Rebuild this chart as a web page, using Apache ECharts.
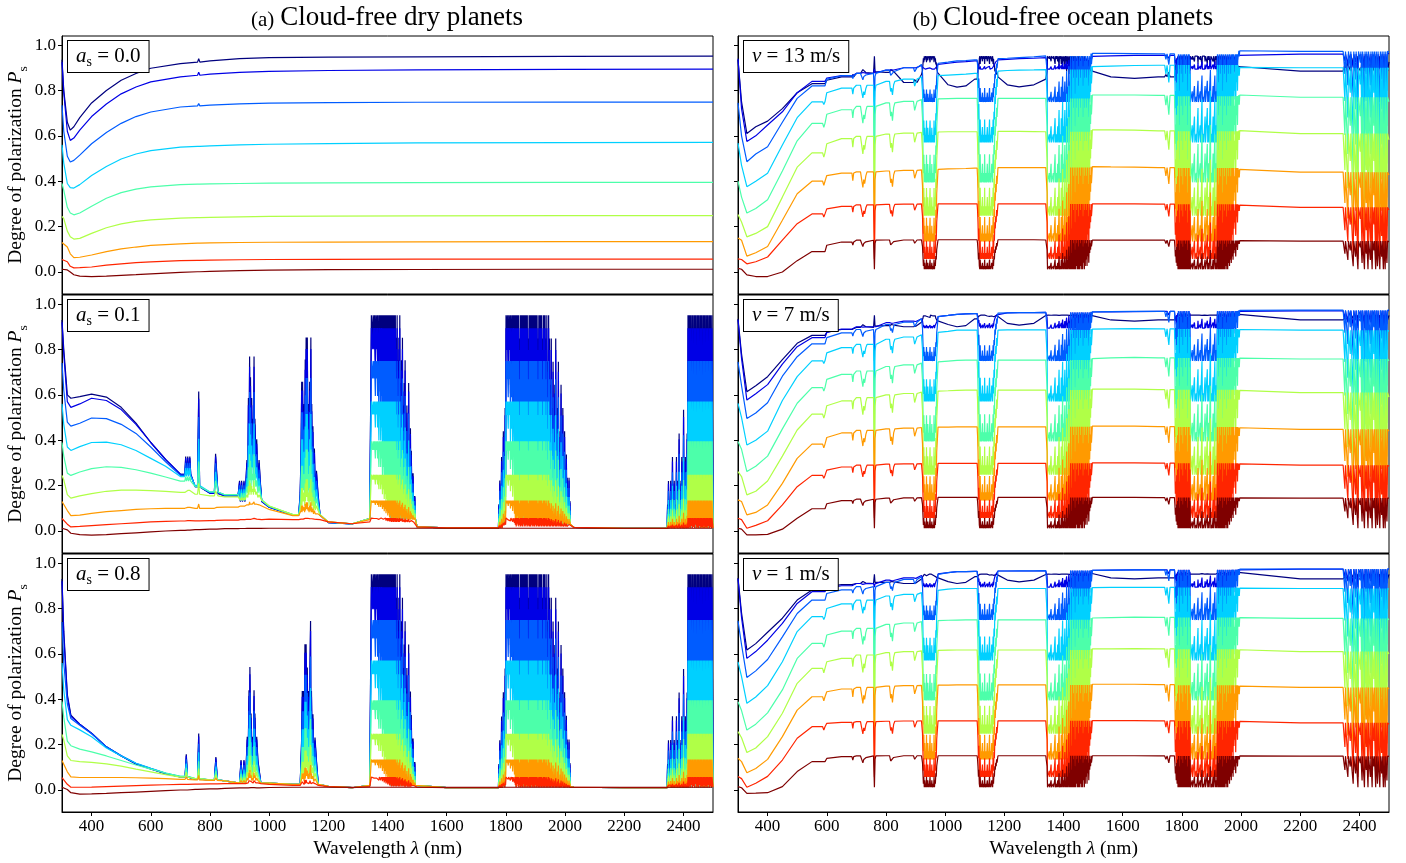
<!DOCTYPE html>
<html><head><meta charset="utf-8">
<script src="https://cdn.jsdelivr.net/npm/echarts@6/dist/echarts.min.js"></script>
<style>html,body{margin:0;padding:0;background:#fff}#c{width:1406px;height:863px}</style>
</head><body><div id="c"></div><script>
// ---------- axes ----------
const XTICKS = [400, 600, 800, 1000, 1200, 1400, 1600, 1800, 2000, 2200, 2400];
const YTICKS = [0, 0.2, 0.4, 0.6, 0.8, 1.0];
const COLORS = ['#00007f', '#0000e6', '#005cff', '#00d0ff', '#4cffaa', '#b0ff47', '#ff9a00', '#ff2500', '#7f0000'];
// fully absorbed (single-scattering) level of each curve, read from the a_s = 0.0 panel
const LEVEL = [0.951, 0.894, 0.749, 0.571, 0.395, 0.248, 0.134, 0.057, 0.012];
const DRY_LABELS = ['0.0', '0.1', '0.8'];
const SEA_LABELS = ['13', '7', '1'];

// ---------- dry, a_s = 0.0 ----------
const wlDry0 = [300, 306, 318, 328, 340, 360, 400, 450, 500, 550, 600, 700, 758, 762, 766, 800, 900, 1000, 1200, 1500, 2000, 2500];
const dry0_navy = [.935, .80, .66, .625, .64, .68, .745, .80, .845, .875, .898, .918, .925, .94, .925, .93, .94, .945, .947, .948, .95, .951];
const dry0_blue = [.925, .79, .62, .58, .59, .625, .685, .74, .785, .815, .838, .86, .867, .88, .867, .872, .88, .884, .888, .891, .893, .894];
const dry0_azure = [.735, .62, .51, .485, .492, .515, .565, .615, .655, .685, .705, .727, .732, .742, .732, .735, .741, .744, .746, .748, .749, .749];
const dry0_cyan = [.56, .48, .39, .372, .37, .385, .425, .465, .498, .52, .535, .55, .554, .56, .554, .556, .56, .563, .566, .569, .57, .571];
const dry0_aqua = [.39, .36, .285, .26, .252, .26, .29, .325, .35, .365, .375, .385, .387, .392, .387, .388, .39, .392, .393, .394, .395, .395];
const dry0_lime = [.245, .235, .18, .155, .145, .148, .17, .195, .212, .223, .23, .237, .24, .244, .24, .241, .243, .245, .246, .247, .248, .248];
const dry0_orange = [.13, .128, .11, .08, .063, .065, .075, .09, .102, .11, .117, .124, .127, .131, .127, .128, .13, .131, .132, .133, .134, .134];
const dry0_red = [.055, .054, .045, .025, .018, .019, .022, .03, .036, .041, .045, .05, .051, .054, .051, .052, .054, .055, .056, .057, .057, .057];
const dry0_maroon = [.012, .012, .009, 0, -.012, -.018, -.02, -.018, -.015, -.012, -.008, -.002, .001, .004, .001, .003, .006, .008, .01, .011, .012, .012];

// ---------- dry, a_s = 0.1 and 0.8 (continuum) ----------
const wlDry = [300, 306, 318, 330, 360, 400, 450, 500, 550, 600, 650, 700, 750, 800, 850, 900, 1000, 1080, 1200, 1280, 1340, 1500, 1600, 1700, 1790, 2030, 2200, 2350, 2500];
const dry1_navy = [.93, .80, .60, .585, .592, .603, .59, .545, .475, .39, .315, .25, .195, .166, .155, .13, .105, .07, .037, .031, .055, .018, .014, .014, .03, .016, .012, .013, .012];
const dry1_blue = [.92, .78, .57, .545, .56, .585, .575, .535, .47, .39, .315, .25, .195, .166, .155, .13, .105, .07, .037, .031, .055, .018, .014, .014, .03, .016, .012, .013, .012];
const dry1_azure = [.74, .62, .48, .462, .475, .498, .495, .47, .43, .37, .305, .245, .195, .17, .158, .133, .106, .071, .038, .031, .055, .018, .014, .014, .03, .016, .012, .013, .012];
const dry1_cyan = [.56, .47, .37, .355, .372, .39, .392, .38, .355, .32, .285, .24, .2, .172, .16, .135, .108, .072, .038, .031, .055, .018, .014, .014, .03, .016, .012, .013, .012];
const dry1_aqua = [.39, .33, .255, .245, .26, .275, .283, .28, .27, .255, .238, .22, .195, .172, .16, .138, .11, .072, .04, .032, .055, .018, .014, .014, .03, .016, .012, .013, .012];
const dry1_lime = [.245, .225, .16, .145, .155, .165, .175, .18, .18, .178, .175, .17, .162, .155, .15, .135, .11, .072, .04, .032, .055, .018, .014, .014, .03, .016, .012, .013, .012];
const dry1_orange = [.13, .128, .09, .068, .07, .078, .085, .09, .095, .098, .1, .1, .1, .1, .105, .11, .095, .068, .04, .032, .05, .018, .014, .014, .03, .016, .012, .013, .012];
const dry1_red = [.055, .054, .03, .018, .02, .024, .028, .032, .036, .04, .042, .044, .045, .046, .048, .05, .052, .05, .04, .032, .04, .018, .014, .014, .02, .016, .012, .013, .012];
const dry1_maroon = [.012, .012, .005, -.01, -.016, -.018, -.016, -.012, -.008, -.004, 0, .003, .006, .008, .01, .011, .012, .012, .012, .012, .012, .012, .012, .012, .012, .012, .012, .012, .012];

const dry8_navy = [.93, .70, .42, .33, .29, .25, .19, .15, .115, .093, .072, .058, .048, .045, .04, .03, .03, .025, .016, .01, .02, .012, .01, .01, .015, .012, .01, .012, .012];
const dry8_blue = [.92, .68, .41, .325, .29, .25, .19, .15, .115, .093, .072, .058, .048, .045, .04, .03, .03, .025, .016, .01, .02, .012, .01, .01, .015, .012, .01, .012, .012];
const dry8_azure = [.74, .56, .38, .315, .285, .248, .19, .152, .118, .095, .073, .058, .048, .045, .04, .03, .03, .025, .016, .01, .02, .012, .01, .01, .015, .012, .01, .012, .012];
const dry8_cyan = [.56, .44, .31, .285, .265, .235, .185, .15, .118, .096, .075, .06, .05, .045, .04, .03, .03, .025, .016, .01, .02, .012, .01, .01, .015, .012, .01, .012, .012];
const dry8_aqua = [.39, .32, .215, .195, .18, .168, .15, .13, .11, .092, .075, .06, .05, .045, .04, .03, .03, .025, .016, .01, .02, .012, .01, .01, .015, .012, .01, .012, .012];
const dry8_lime = [.245, .22, .15, .13, .125, .122, .115, .105, .092, .08, .068, .057, .05, .045, .04, .03, .03, .025, .016, .01, .02, .012, .01, .01, .015, .012, .01, .012, .012];
const dry8_orange = [.13, .128, .08, .058, .055, .055, .055, .055, .054, .052, .05, .047, .045, .042, .04, .03, .03, .025, .016, .01, .02, .012, .01, .01, .015, .012, .01, .012, .012];
const dry8_red = [.055, .054, .025, .012, .012, .013, .015, .017, .019, .021, .023, .025, .026, .027, .028, .028, .025, .02, .015, .01, .015, .012, .01, .01, .012, .012, .01, .012, .012];
const dry8_maroon = [.012, .012, .002, -.012, -.018, -.017, -.015, -.012, -.009, -.006, -.003, 0, .003, .005, .007, .009, .011, .012, .012, .012, .012, .012, .012, .012, .012, .012, .012, .012, .012];

// ---------- ocean (continuum) ----------
const wlSea = [300, 312, 330, 360, 400, 450, 500, 550, 600, 650, 700, 800, 860, 920, 975, 1010, 1040, 1070, 1100, 1170, 1210, 1250, 1300, 1340, 1490, 1560, 1640, 1720, 1785, 1990, 2200, 2500];
const sea13_navy = [.934, .75, .61, .64, .665, .72, .79, .83, .845, .86, .875, .88, .835, .87, .875, .825, .815, .82, .85, .86, .825, .816, .825, .85, .885, .86, .853, .86, .88, .90, .885, .926];
const sea13_blue = [.94, .72, .575, .60, .648, .706, .79, .84, .855, .865, .875, .89, .90, .91, .915, .92, .925, .927, .93, .935, .937, .94, .942, .945, .95, .952, .955, .955, .955, .96, .96, .965];
const sea13_azure = [.745, .60, .486, .52, .552, .66, .765, .82, .85, .865, .875, .89, .90, .915, .92, .925, .93, .932, .935, .94, .942, .945, .948, .952, .963, .963, .962, .961, .96, .975, .972, .97];
const sea13_cyan = [.568, .47, .376, .40, .435, .56, .68, .75, .79, .81, .823, .84, .85, .86, .865, .868, .87, .872, .875, .885, .888, .89, .891, .892, .905, .907, .91, .911, .912, .902, .90, .893];
const sea13_aqua = [.40, .33, .26, .28, .318, .445, .578, .655, .695, .715, .73, .745, .752, .76, .763, .764, .765, .765, .765, .765, .765, .765, .765, .765, .78, .78, .78, .778, .775, .78, .77, .75];
const sea13_lime = [.253, .22, .155, .17, .20, .33, .462, .525, .565, .588, .598, .608, .612, .615, .617, .618, .618, .618, .618, .62, .62, .62, .619, .618, .626, .626, .625, .622, .62, .623, .61, .582];
const sea13_orange = [.15, .14, .07, .085, .112, .228, .345, .40, .425, .436, .441, .445, .448, .45, .452, .454, .455, .456, .458, .46, .46, .46, .46, .46, .464, .463, .462, .46, .458, .452, .44, .427];
const sea13_red = [.058, .055, .036, .045, .066, .14, .213, .256, .278, .289, .296, .298, .299, .30, .30, .30, .30, .30, .30, .30, .30, .30, .30, .30, .30, .30, .30, .299, .298, .295, .285, .273];
const sea13_maroon = [.016, .012, -.013, -.02, -.02, 0, .05, .09, .118, .132, .14, .141, .141, .142, .142, .142, .142, .142, .142, .142, .142, .142, .142, .141, .141, .14, .14, .14, .139, .138, .136, .134];

const sea7_navy = [.935, .78, .614, .64, .68, .755, .827, .862, .876, .888, .897, .905, .90, .92, .935, .91, .90, .905, .935, .95, .915, .907, .915, .95, .95, .93, .925, .93, .95, .955, .93, .95];
const sea7_blue = [.93, .76, .577, .605, .645, .735, .812, .852, .875, .89, .90, .918, .925, .935, .945, .95, .955, .957, .958, .96, .961, .962, .962, .963, .965, .966, .967, .968, .968, .97, .97, .972];
const sea7_azure = [.745, .64, .496, .52, .565, .682, .768, .825, .852, .873, .888, .91, .92, .935, .945, .95, .955, .957, .958, .96, .961, .962, .962, .963, .966, .967, .968, .968, .968, .972, .973, .975];
const sea7_cyan = [.562, .50, .379, .40, .44, .575, .68, .75, .785, .808, .822, .845, .855, .865, .875, .88, .885, .885, .885, .885, .886, .886, .886, .886, .89, .891, .892, .891, .89, .888, .885, .88];
const sea7_aqua = [.394, .36, .262, .285, .33, .45, .563, .632, .668, .69, .705, .725, .732, .74, .745, .749, .752, .753, .753, .753, .753, .753, .753, .753, .76, .763, .765, .763, .762, .762, .758, .75];
const sea7_lime = [.262, .24, .159, .175, .22, .33, .445, .515, .552, .573, .588, .60, .606, .612, .616, .618, .62, .621, .621, .621, .621, .621, .621, .621, .625, .625, .625, .623, .622, .62, .61, .59];
const sea7_orange = [.137, .13, .071, .082, .115, .21, .32, .383, .412, .432, .443, .45, .453, .456, .458, .458, .459, .459, .459, .459, .459, .459, .459, .459, .462, .462, .462, .46, .458, .455, .448, .44];
const sea7_red = [.056, .05, .012, .025, .045, .115, .195, .245, .268, .282, .29, .295, .296, .297, .298, .298, .298, .298, .298, .298, .298, .298, .298, .298, .30, .30, .30, .299, .298, .296, .29, .285];
const sea7_maroon = [.012, .008, -.017, -.017, -.015, .008, .056, .098, .12, .134, .14, .145, .146, .147, .148, .148, .148, .148, .148, .148, .148, .148, .148, .148, .148, .148, .148, .147, .147, .146, .145, .145];

const sea1_navy = [.935, .78, .617, .645, .695, .757, .837, .881, .896, .905, .91, .915, .91, .93, .94, .918, .91, .915, .94, .95, .925, .917, .925, .95, .955, .935, .93, .935, .955, .96, .93, .95];
const sea1_blue = [.93, .76, .58, .61, .66, .734, .822, .874, .888, .90, .91, .925, .935, .945, .952, .958, .962, .962, .963, .965, .965, .965, .965, .966, .968, .969, .97, .97, .97, .972, .973, .975];
const sea1_azure = [.745, .64, .496, .525, .575, .675, .778, .837, .866, .882, .896, .915, .928, .94, .95, .958, .962, .962, .963, .965, .965, .966, .966, .967, .968, .969, .97, .97, .97, .973, .974, .976];
const sea1_cyan = [.565, .50, .382, .41, .46, .565, .698, .764, .80, .82, .837, .855, .862, .87, .88, .885, .888, .888, .888, .888, .888, .888, .888, .888, .892, .893, .893, .893, .892, .89, .888, .885];
const sea1_aqua = [.389, .35, .264, .29, .34, .441, .58, .646, .683, .70, .712, .73, .736, .742, .746, .748, .749, .75, .75, .75, .75, .75, .75, .75, .758, .76, .762, .761, .76, .76, .756, .75];
const sea1_lime = [.257, .23, .165, .185, .235, .338, .47, .536, .565, .58, .595, .605, .61, .613, .615, .616, .617, .617, .617, .617, .617, .617, .617, .617, .622, .622, .623, .622, .62, .618, .61, .60];
const sea1_orange = [.14, .125, .076, .095, .135, .235, .352, .411, .433, .445, .452, .458, .46, .461, .462, .462, .463, .463, .463, .463, .463, .463, .463, .463, .466, .466, .466, .464, .462, .458, .452, .445];
const sea1_red = [.059, .05, .012, .03, .06, .132, .228, .279, .294, .298, .301, .303, .304, .305, .305, .305, .305, .305, .305, .305, .305, .305, .305, .305, .306, .306, .306, .305, .304, .302, .296, .29];
const sea1_maroon = [.015, .01, -.015, -.014, -.012, .015, .081, .125, .139, .147, .15, .151, .151, .151, .151, .151, .151, .151, .151, .151, .151, .151, .151, .151, .151, .151, .151, .15, .15, .15, .149, .148];

// ---------- absorption features: fraction of the way (0..9) from continuum to LEVEL ----------
const STEP = 1.5;
const dryBand1400Start = 1344;
const dryBand1400 = [0,9,9,9,8,9,9,8,9,9, 7,9,9,8,9,7,9,9,6,9, 8,9,6,9,7,9,5,9,6,9, 4,9,5,9,3,9,4,9,2,9, 3,9,1,9,2,9,0,9,1,9, 0,9,0,9,1,9,0,8,0,9, 1,7,0,8,0,9,2,6,0,7, 1,8,0,5,1,6,0,7,0,4, 1,5,0,3,0,6,0,2,0,4, 0,3,1,2,0,2,0,1,0,1, 0];
const dryBand1900Start = 1775;
const dryBand1900 = [0,1,0,2,0,1,0,3,0,2,0,4,1,3,0,5,2,
  9,9,8,9,9,7,9,9,8,9,6,9,9,7,9,5,9,8,9,4,
  9,2,9,0,9,3,9,1,9,0,8,2,9,0,9,1,9,0,9,3,9,0,9,1,9,0,9,2,9,0,8,1,9,0,9,0,9,2,9,0,
  9,1,9,0,9,0,9,2,9,0,9,1,8,0,9,0,9,1,9,0,9,0,8,1,9,0,9,0,9,1,8,0,9,0,7,1,9,0,8,0,
  6,0,8,1,5,0,7,0,4,1,6,0,8,0,3,0,5,1,7,0,2,0,4,0,6,0,3,1,5,0,2,0,4,0,1,0,3,0,2,0,1,0,2,0,1,0,0];
const dryBand2450Start = 2345;
const dryBand2450 = [0,1,0,2,0,1,0,0,2,0,1,0,3,0,1,0,2,0,0,1,0,3,0,2,0,1,0,4,0,2,0,1,0,3,0,2,0,5,0,1,0,3,0,2,0,4,0,
  9,0,9,1,9,0,9,9,2,9,0,9,9,1,9,0,9,3,9,9,0,9,1,9,0,9,9,2,9,0,9,1,9,9,0,9,2,9,0,9,9,1,9,0,9,9,2,9,0,9,1,9,9,0,9,9,9];
const dry1_n720 = [[715,0],[718,1],[721,0],[725,1],[728,0],[732,1],[735,0]];
const dry1_n760 = [[758,0],[762,5],[765,0]];
const dry1_n820 = [[815,0],[819,2],[823,1],[827,0]];
const dry1_b940 = [[895,0],[900,1],[903,0],[907,1],[910,0],[915,1],[918,0],[925,2],[928,1],[930,5],[932,2],[934,7],[935,3],[937,6],[939,2],[941,5],[943,3],[945,4],[947,2],[949,7],[950,3],[952,4],[955,2],[958,3],[962,1],[966,2],[970,1],[975,0]];
const dry1_b1130 = [[1100,0],[1105,1],[1108,3],[1110,6],[1111,2],[1113,6],[1115,3],[1118,5],[1120,2],[1122,7],[1123,3],[1125,8],[1127,4],[1129,8],[1131,3],[1133,5],[1135,2],[1137,6],[1139,3],[1141,8],[1142,2],[1144,5],[1146,2],[1148,4],[1150,1],[1153,3],[1156,1],[1160,2],[1165,1],[1172,0]];
const dry8_n720 = [[716,0],[720,1],[724,0]];
const dry8_n760 = [[758,0],[762,2],[764,0]];
const dry8_n820 = [[815,0],[820,1],[825,0]];
const dry8_b940 = [[900,0],[905,1],[910,0],[915,1],[920,0],[926,2],[929,1],[932,4],[934,2],[935,5],[937,2],[939,3],[941,1],[944,2],[946,1],[949,4],[950,2],[952,3],[955,1],[958,2],[962,1],[967,1],[972,0]];
const dry8_b1130 = [[1105,0],[1110,2],[1112,4],[1114,2],[1116,4],[1118,1],[1121,6],[1122,2],[1125,6],[1127,3],[1129,5],[1131,2],[1133,4],[1135,2],[1138,5],[1140,7],[1141,2],[1143,4],[1145,2],[1148,3],[1151,1],[1155,2],[1160,1],[1166,0]];

const sea_n590 = [[586,0],[590,0.6],[594,0]];
const sea_n690 = [[685,0],[688,1],[691,0]];
const sea_n720 = [[714,0],[718,1],[722,2],[725,1],[728,1.5],[732,0.5],[736,0]];
const sea_n760 = [[758,0],[761,9],[763,1],[766,0]];
const sea_n820 = [[812,0],[816,1.5],[819,1],[822,2],[826,0.5],[830,0]];
const sea_n900 = [[893,0],[897,1],[901,0.5],[905,0]];
const sea_n1760 = [[1742,0],[1746,1],[1750,0],[1756,2],[1760,0]];
const seaBand940Start = 922;
const seaBand940 = [0,2,5,8,6,9,7,9,8,9,6,9,9,7,9,8,9,9,6,9,8,9,7,9,9,8,9,6,9,7,8,5,6,3,2,1,0];
const seaBand1130Start = 1108;
const seaBand1130 = [0,1,3,6,4,8,9,6,9,8,9,9,7,9,9,8,9,6,9,9,8,9,9,7,9,8,9,9,6,9,8,9,9,7,8,9,6,8,5,6,3,4,2,3,1,2,1,0];
const seaBand1400Start = 1343;
const seaBand1400 = [0,3,9,9,9,9,8,9,9,9, 7,9,9,9,9,8,9,9,9,6, 9,9,8,9,9,7,9,9,5,9, 9,8,9,6,9,9,4,9,7,9, 9,5,9,8,9,3,9,6,9,9, 2,9,5,9,0,9,4,9,0,9, 1,9,0,9,3,9,0,8,1,9, 0,9,2,9,0,9,1,8,0,9, 0,9,2,7,0,9,1,8,0,6, 1,8,0,5,2,7,0,4,1,3, 0,2,1,0,0];
const seaBand1900Start = 1775;
const seaBand1900 = [0,2,5,3,7,2,8,1,9,0,9,3,9,0,9,1,9,0,9,2,9,0,9,0,9,1,9,0,9,3,9,0,9,0,9,1,9,
  9,9,9,7,9,9,9,9,6,9,9,9,8,9,9,9,5,9,9,9,9,7,9,9,9,4,9,9,8,9,9,9,6,9,9,9,9,5,9,9,7,9,9,9,3,9,9,8,9,9,6,9,9,9,4,9,9,7,9,
  9,0,9,2,9,0,9,1,9,0,9,0,9,3,9,0,9,1,9,0,8,2,9,0,9,1,7,0,8,0,6,1,7,0,5,0,6,0,4,1,3,0,5,0,2,0,3,0,1,0,1,0];
const seaBand2450Start = 2345, seaBand2450Step = 2;
const seaBand2450 = [0,0,0,4,0,0,0,0,6,0,0,0,3,0,0,0,0,8,0,0,0,5,0,0,0,9,0,0,0,2,0,0,7,0,0,0,9,0,0,4,0,0,9,0,0,0,6,0,0,9,0,0,3,0,0,9,0,0,8,0,0,0,9,0,0,5,0,0,9,0,0,9,0,0,7,0];

// ---------- build ----------
function onGrid(start, list, step) { const s = step || STEP; return list.map((f, k) => [start + k * s, f]); }
const dryBands = [onGrid(dryBand1400Start, dryBand1400), onGrid(dryBand1900Start, dryBand1900), onGrid(dryBand2450Start, dryBand2450)];
const seaGroups = [sea_n590, sea_n690, sea_n720, sea_n760, sea_n820, sea_n900, sea_n1760,
  onGrid(seaBand940Start, seaBand940), onGrid(seaBand1130Start, seaBand1130), onGrid(seaBand1400Start, seaBand1400),
  onGrid(seaBand1900Start, seaBand1900), onGrid(seaBand2450Start, seaBand2450, seaBand2450Step)];

const PANELS = [
  { wl: wlDry0, curves: [dry0_navy, dry0_blue, dry0_azure, dry0_cyan, dry0_aqua, dry0_lime, dry0_orange, dry0_red, dry0_maroon], groups: [] },
  { wl: wlDry, curves: [dry1_navy, dry1_blue, dry1_azure, dry1_cyan, dry1_aqua, dry1_lime, dry1_orange, dry1_red, dry1_maroon],
    groups: [dry1_n720, dry1_n760, dry1_n820, dry1_b940, dry1_b1130].concat(dryBands) },
  { wl: wlDry, curves: [dry8_navy, dry8_blue, dry8_azure, dry8_cyan, dry8_aqua, dry8_lime, dry8_orange, dry8_red, dry8_maroon],
    groups: [dry8_n720, dry8_n760, dry8_n820, dry8_b940, dry8_b1130].concat(dryBands) },
  { wl: wlSea, curves: [sea13_navy, sea13_blue, sea13_azure, sea13_cyan, sea13_aqua, sea13_lime, sea13_orange, sea13_red, sea13_maroon], groups: seaGroups },
  { wl: wlSea, curves: [sea7_navy, sea7_blue, sea7_azure, sea7_cyan, sea7_aqua, sea7_lime, sea7_orange, sea7_red, sea7_maroon], groups: seaGroups },
  { wl: wlSea, curves: [sea1_navy, sea1_blue, sea1_azure, sea1_cyan, sea1_aqua, sea1_lime, sea1_orange, sea1_red, sea1_maroon], groups: seaGroups }
];

function curvePoints(wl, vals, level, groups) {
  const pts = [];
  wl.forEach((x, k) => {
    if (!groups.some(g => x >= g[0][0] && x <= g[g.length - 1][0])) pts.push([x, vals[k]]);
  });
  groups.forEach(g => g.forEach(([x, f]) => {
    let k = 0;
    while (k + 1 < wl.length && wl[k + 1] <= x) k++;
    const c = vals[k];
    pts.push([x, +(c + f / 9 * (level - c)).toFixed(4)]);
  }));
  pts.sort((a, b) => a[0] - b[0]);
  return pts;
}

const FONT = 'Liberation Serif';
const LEFTS = [62, 738], TOPS = [36, 295, 554], W = 651, H = 258;
const grid = [], xAxis = [], yAxis = [], series = [], graphic = [];

PANELS.forEach((p, i) => {
  const col = i < 3 ? 0 : 1, row = i % 3;
  grid.push({ left: LEFTS[col], top: TOPS[row], width: W, height: H, show: true, borderColor: '#000', borderWidth: 1, containLabel: false });
  xAxis.push({
    type: 'value', gridIndex: i, min: 300, max: 2500,
    axisLine: { show: true, onZero: false, lineStyle: { color: '#000', width: 1 } },
    axisTick: { show: row === 2, customValues: XTICKS, length: 4, lineStyle: { color: '#000' } },
    axisLabel: { show: row === 2, customValues: XTICKS, fontSize: 17, fontFamily: FONT, color: '#000', margin: 6, formatter: v => String(v) },
    splitLine: { show: false },
    name: row === 2 ? 'Wavelength {i|λ} (nm)' : '', nameLocation: 'middle', nameGap: 27,
    nameTextStyle: { fontSize: 19.5, fontFamily: FONT, color: '#000', rich: { i: { fontStyle: 'italic', fontSize: 19.5, fontFamily: FONT } } }
  });
  yAxis.push({
    type: 'value', gridIndex: i, min: -0.097, max: 1.04,
    axisLine: { show: true, onZero: false, lineStyle: { color: '#000', width: 1 } },
    axisTick: { show: true, customValues: YTICKS, length: 4, lineStyle: { color: '#000' } },
    axisLabel: { show: col === 0, customValues: YTICKS, fontSize: 17, fontFamily: FONT, color: '#000', margin: 6, formatter: v => v.toFixed(1) },
    splitLine: { show: false },
    name: col === 0 ? 'Degree of polarization {i|P}{s|s}' : '', nameLocation: 'middle', nameGap: 30, nameRotate: 90,
    nameTextStyle: { fontSize: 19.5, fontFamily: FONT, color: '#000',
      rich: { i: { fontStyle: 'italic', fontSize: 19.5, fontFamily: FONT }, s: { fontSize: 13.5, fontFamily: FONT, verticalAlign: 'bottom', lineHeight: 30 } } }
  });
  p.curves.forEach((vals, c) => {
    series.push({
      type: 'line', xAxisIndex: i, yAxisIndex: i, showSymbol: false, symbol: 'none',
      data: curvePoints(p.wl, vals, LEVEL[c], p.groups),
      lineStyle: { color: COLORS[c], width: 1.2 }, itemStyle: { color: COLORS[c] },
      silent: true, animation: false, clip: true, z: 2
    });
  });
  const label = col === 0 ? '{i|a}{s|s}{t| = ' + DRY_LABELS[row] + '}' : '{i|v}{t| = ' + SEA_LABELS[row] + ' m/s}';
  graphic.push({
    type: 'text', x: LEFTS[col] + 6, y: TOPS[row] + 5, z: 100,
    style: {
      text: label, fill: '#000', backgroundColor: '#fff', borderColor: '#000', borderWidth: 1,
      padding: [3, 8, 3, 8], verticalAlign: 'top', align: 'left', lineHeight: 25,
      fontSize: 21, fontFamily: FONT,
      rich: {
        i: { fontStyle: 'italic', fontSize: 21, fontFamily: FONT, lineHeight: 25, verticalAlign: 'middle' },
        s: { fontSize: 14, fontFamily: FONT, lineHeight: 25, verticalAlign: 'bottom' },
        t: { fontSize: 21, fontFamily: FONT, lineHeight: 25, verticalAlign: 'middle' }
      }
    }
  });
});

const titleRich = { a: { fontSize: 21, fontFamily: FONT, verticalAlign: 'bottom', lineHeight: 30 }, b: { fontSize: 27, fontFamily: FONT, verticalAlign: 'bottom', lineHeight: 30 } };
graphic.push({ type: 'text', x: 387, y: 1, z: 100, style: { text: '{a|(a)}  {b|Cloud-free dry planets}', align: 'center', verticalAlign: 'top', fill: '#000', fontFamily: FONT, rich: titleRich } });
graphic.push({ type: 'text', x: 1063, y: 1, z: 100, style: { text: '{a|(b)}  {b|Cloud-free ocean planets}', align: 'center', verticalAlign: 'top', fill: '#000', fontFamily: FONT, rich: titleRich } });

const chart = echarts.init(document.getElementById('c'), null, { renderer: 'canvas' });
chart.setOption({ animation: false, backgroundColor: '#fff', grid, xAxis, yAxis, series, graphic });
</script></body></html>
